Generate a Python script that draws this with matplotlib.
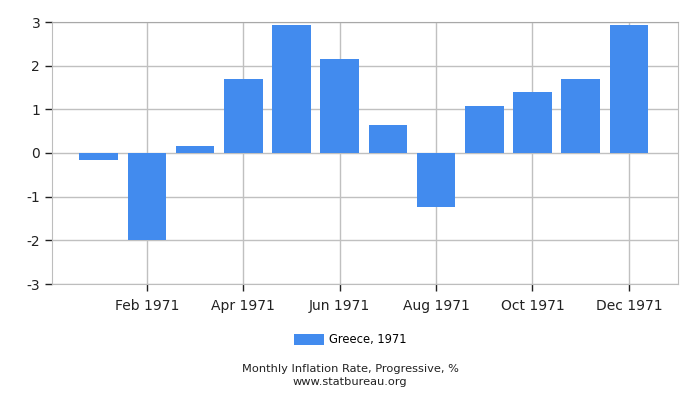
import matplotlib
matplotlib.use('Agg')
import matplotlib.pyplot as plt
import numpy as np

months = ['Jan 1971', 'Feb 1971', 'Mar 1971', 'Apr 1971', 'May 1971', 'Jun 1971',
          'Jul 1971', 'Aug 1971', 'Sep 1971', 'Oct 1971', 'Nov 1971', 'Dec 1971']
rates = [-0.15, -1.99, 0.16, 1.70, 2.94, 2.16, 0.63, -1.23, 1.08, 1.40, 1.70, 2.94]
series_label = 'Greece, 1971'
title = 'Monthly Inflation Rate, Progressive, %'
site = 'www.statbureau.org'

plt.rcParams['axes.unicode_minus'] = False
plt.rcParams['font.family'] = 'DejaVu Sans'

fig = plt.figure(figsize=(7, 4), dpi=100)
ax = fig.add_axes([52 / 700, 1 - 284 / 400, 626 / 700, 262 / 400])

ind = np.arange(len(months))
ax.bar(ind, rates, width=0.8, color='#428bee', label=series_label, zorder=3)

ax.set_xlim(-0.97, 12.02)
ax.set_ylim(-3, 3)
ax.set_yticks(range(-3, 4))
ax.set_xticks(ind[1::2])
ax.set_xticklabels(months[1::2])
ax.tick_params(axis='both', labelsize=10, colors='#222222', length=5, width=1)
ax.tick_params(axis='x', pad=6)
ax.grid(color='#c0c0c0', linewidth=1, zorder=0)
for s in ax.spines.values():
    s.set_color('#bdbdbd')
ax.spines['top'].set_color('#a8a8a8')

ax.legend(loc='center', bbox_to_anchor=(0.5, 1 - 340 / 400), bbox_transform=fig.transFigure,
          frameon=False, fontsize=8.3, handlelength=2.6, handleheight=1.0, handletextpad=0.4)
fig.text(0.5, 1 - 369.5 / 400, title, ha='center', va='center', fontsize=8.2, color='#222222')
fig.text(0.5, 1 - 382 / 400, site, ha='center', va='center', fontsize=8.2, color='#222222')

fig.savefig('out.png', dpi=100)
